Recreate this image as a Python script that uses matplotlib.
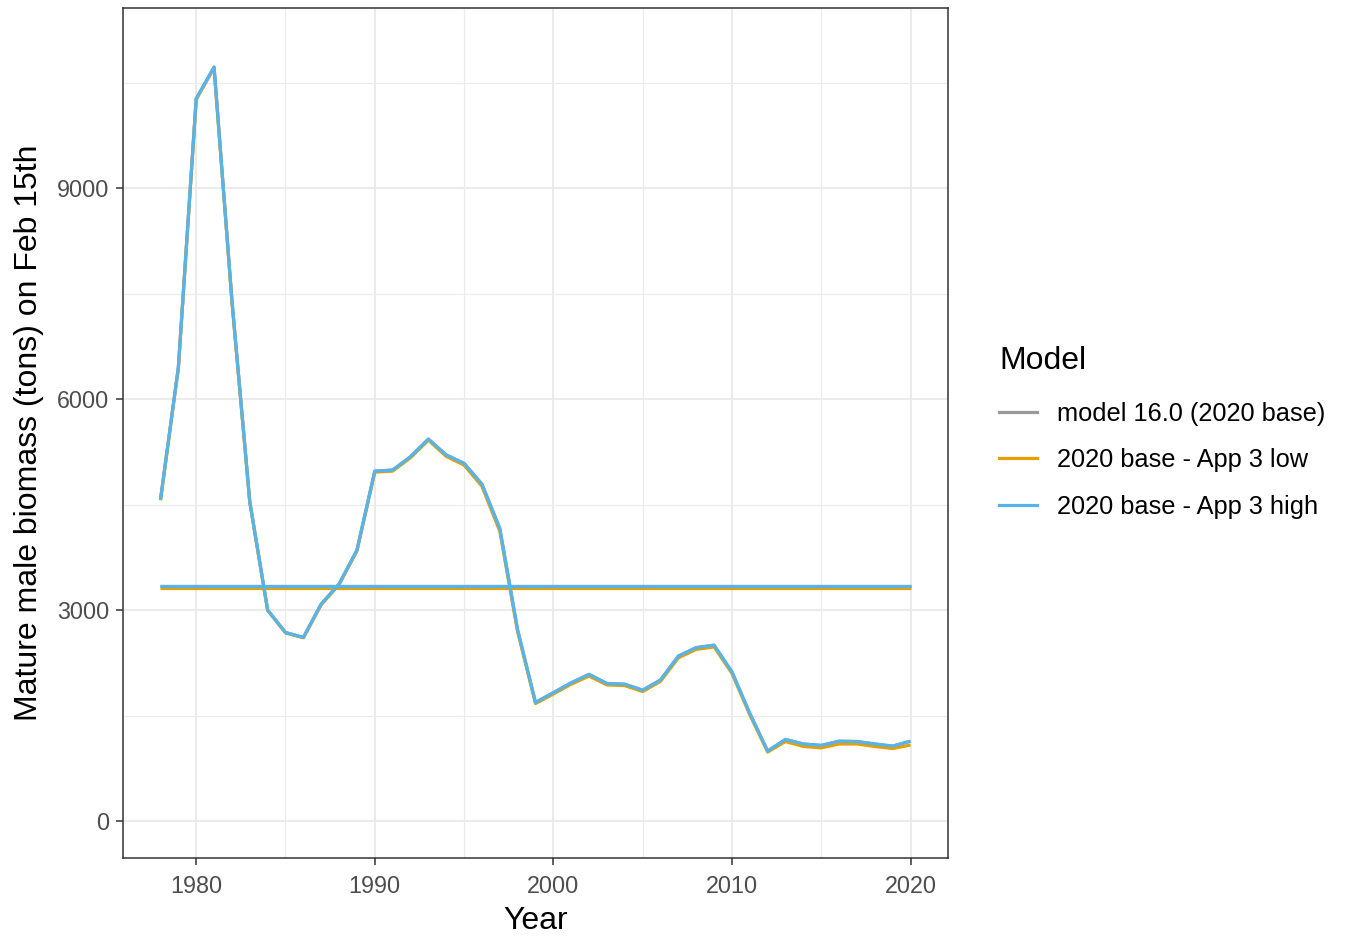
import numpy as np
import matplotlib
matplotlib.use("Agg")
import matplotlib.pyplot as plt
from matplotlib.lines import Line2D

plt.rcParams['font.family'] = ['Liberation Sans', 'DejaVu Sans']

# данные
years = list(range(1978, 2021))

base = [4570, 6450, 10270, 10720, 7400, 4540, 3000, 2680, 2610, 3085,
        3370, 3850, 4975, 4990, 5180, 5430, 5205, 5085, 4790, 4160,
        2715, 1685, 1825, 1965, 2085, 1955, 1945, 1860, 2005, 2345,
        2465, 2500, 2120, 1530, 995, 1160, 1095, 1075, 1135, 1130,
        1095, 1065, 1135]
low = [4560, 6440, 10260, 10710, 7390, 4530, 2995, 2675, 2605, 3075,
       3360, 3840, 4960, 4975, 5165, 5415, 5185, 5060, 4760, 4120,
       2690, 1670, 1805, 1945, 2060, 1935, 1925, 1840, 1985, 2320,
       2440, 2475, 2100, 1510, 980, 1130, 1060, 1040, 1095, 1095,
       1060, 1030, 1080]
high = [4570, 6450, 10270, 10720, 7400, 4540, 3000, 2680, 2610, 3085,
        3370, 3850, 4975, 4990, 5180, 5430, 5205, 5085, 4790, 4160,
        2715, 1685, 1825, 1965, 2085, 1955, 1945, 1860, 2005, 2345,
        2465, 2500, 2120, 1530, 995, 1160, 1095, 1075, 1135, 1130,
        1095, 1065, 1135]
bmsy = [3340, 3320, 3340]

labels = ['model 16.0 (2020 base)', '2020 base - App 3 low', '2020 base - App 3 high']
colors = ['#999999', '#E69F00', '#56B4E9']

fig = plt.figure(figsize=(13.45, 9.38), dpi=100)
ax = fig.add_axes([123 / 1345, 80 / 938, 825 / 1345, 850 / 938])

# сетка как в theme_bw
ax.set_xticks([1985, 1995, 2005, 2015], minor=True)
ax.set_yticks([1500, 4500, 7500, 10500], minor=True)
ax.set_xticks([1980, 1990, 2000, 2010, 2020])
ax.set_yticks([0, 3000, 6000, 9000])
ax.grid(True, which='major', color='#EBEBEB', lw=1.5, zorder=0)
ax.grid(True, which='minor', color='#EBEBEB', lw=0.8, zorder=0)

for series, b, c in zip([base, low, high], bmsy, colors):
    ax.plot(years, series, color=c, lw=2.3, solid_capstyle='butt', zorder=3)
    ax.plot([years[0], years[-1]], [b, b], color=c, lw=2.3, solid_capstyle='butt', zorder=3)

ax.set_xlim(1975.9, 2022.1)
ax.set_ylim(-526, 11560)

for s in ax.spines.values():
    s.set_color('#333333')
    s.set_linewidth(1.1)
ax.tick_params(which='major', length=5, width=1.1, color='#333333',
               labelsize=16.8, labelcolor='#4D4D4D')
ax.tick_params(axis='x', pad=7)
ax.tick_params(axis='y', pad=5)
ax.tick_params(which='minor', length=0)

ax.set_xlabel('Year', fontsize=23, labelpad=6)
ax.set_ylabel('Mature male biomass (tons) on Feb 15th', fontsize=23, labelpad=9)

handles = [Line2D([], [], color=c, lw=2.3) for c in colors]
leg = fig.legend(handles, labels, title='Model', loc='center left',
                 bbox_to_anchor=(976 / 1345, 1 - 434 / 938), frameon=False,
                 fontsize=18.3, title_fontsize=23, handlelength=1.5,
                 handletextpad=0.78, labelspacing=0.89, alignment='left')
leg.get_title().set_position((0, 3))

fig.savefig('out.png', dpi=100)
